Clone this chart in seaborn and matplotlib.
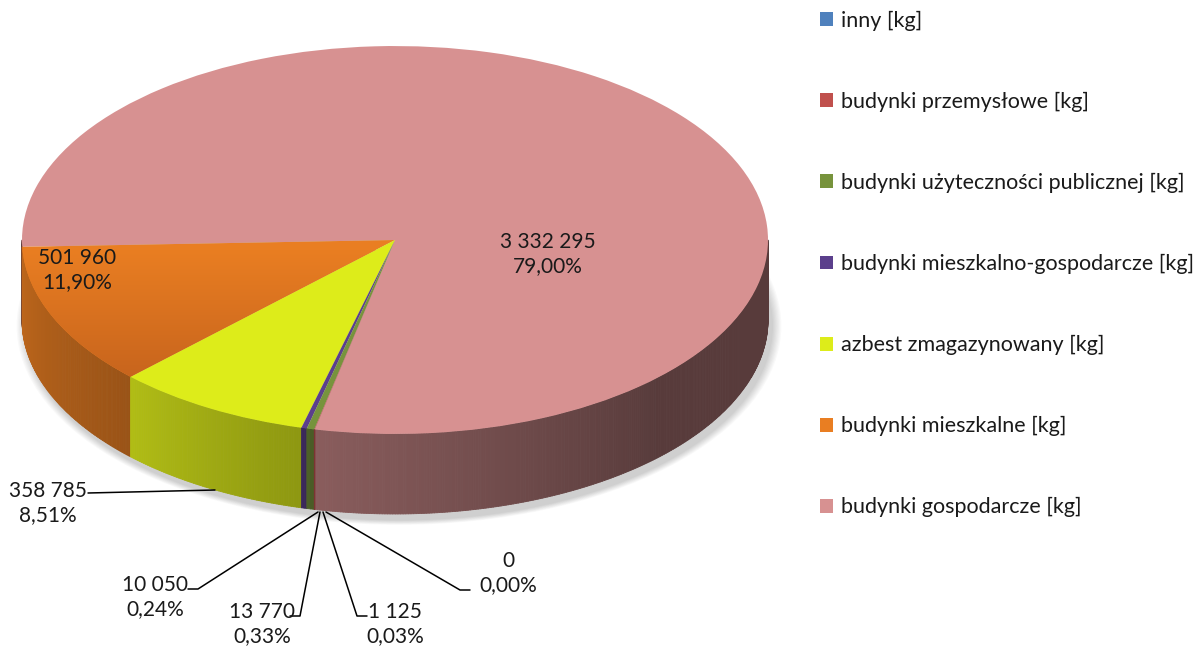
import matplotlib
matplotlib.use("Agg")
import numpy as np
import matplotlib.pyplot as plt
import seaborn as sns
from matplotlib.patches import Patch, Ellipse
from matplotlib.collections import PolyCollection
from matplotlib.colors import to_rgb, LinearSegmentedColormap

# dane (kolejność wycinków jak w arkuszu)
categories = ["budynki gospodarcze [kg]", "budynki mieszkalne [kg]", "azbest zmagazynowany [kg]",
              "budynki mieszkalno-gospodarcze [kg]", "budynki użyteczności publicznej [kg]",
              "budynki przemysłowe [kg]", "inny [kg]"]
values = [3332295, 501960, 358785, 10050, 13770, 1125, 0]
top_colors = ["#D79191", "#E97E22", "#DDEC1A", "#5B3F8C", "#77933C", "#C0504D", "#4F81BD"]
side_shade = [(0.64, 0.41), (0.82, 0.66), (0.80, 0.64), (0.65, 0.6), (0.65, 0.6), (0.7, 0.6), (0.7, 0.6)]

# położenie etykiet (piksele obrazka): środek tekstu, punkty linii odniesienia
label_pos = [(548, 254), (77, 270), (48, 503), (155, 597), (262, 624), (395, 624), (508, 573)]
leaders = [None, None,
           [(88, 493), (215, 490)],
           [(188, 589), (198, 589), (318, 512)],
           [(290, 616), (300, 616), (320, 512)],
           [(367, 616), (357, 616), (323, 512)],
           [(470, 590), (460, 590), (326, 512)]]

SQ = 0.52          # spłaszczenie elipsy
W, H = 1200, 649
cx, cy_px, R, depth_px = 395, 240, 373, 80
start = 257.6

def px(x, y):
    return x, (H - y) / SQ

sns.set_theme(style="white")
plt.rcParams["font.family"] = ["Lato", "DejaVu Sans"]

fig = plt.figure(figsize=(12, 6.49), dpi=100)
ax = fig.add_axes([0, 0, 1, 1])

cx_d, cy_d = px(cx, cy_px)
depth = depth_px / SQ
total = sum(values)
angles = np.concatenate([[start], start + 360 * np.cumsum(values) / total])

# miękki cień pod tortem
for g in range(8):
    ax.add_patch(Ellipse((cx_d + 4, cy_d - depth - 6 / SQ), 2 * (R + 1 + g * 1.2),
                         2 * (R + 1 + g * 1.2), facecolor="black", alpha=0.025,
                         edgecolor="none", zorder=0))

# boczna ściana (tylko przednia połowa)
polys, cols = [], []
for i, (a0, a1) in enumerate(zip(angles[:-1], angles[1:])):
    base = np.array(to_rgb(top_colors[i]))
    for k in (-360, 0, 360):
        lo, hi = max(a0 + k, 180), min(a1 + k, 360)
        if hi <= lo:
            continue
        n = max(2, int((hi - lo) / 0.4))
        th = np.linspace(lo, hi, n + 1)
        for j in range(n):
            t0, t1 = np.radians(th[j]), np.radians(th[j + 1])
            x0, y0 = cx_d + R * np.cos(t0), cy_d + R * np.sin(t0)
            x1, y1 = cx_d + R * np.cos(t1), cy_d + R * np.sin(t1)
            polys.append([(x0, y0), (x1, y1), (x1, y1 - depth), (x0, y0 - depth)])
            t = (th[j] - lo) / (hi - lo)
            if i == 0:
                t = min(1.0, t * 1.8)
            f = side_shade[i][0] + (side_shade[i][1] - side_shade[i][0]) * t
            cols.append(np.clip(base * f, 0, 1))
ax.add_collection(PolyCollection(polys, facecolors=cols, edgecolors=cols, linewidths=0.6, zorder=1))

wedges, _ = ax.pie(values, colors=top_colors, startangle=start, counterclock=True,
                   radius=R, center=(cx_d, cy_d), frame=True,
                   wedgeprops=dict(linewidth=0, zorder=2))

# gradient na wierzchu wycinka pomarańczowego
cmap = LinearSegmentedColormap.from_list("or", ["#C2601C", "#E97E22"])
grad = np.linspace(0, 1, 256).reshape(-1, 1)
y_lo, y_hi = px(0, 400)[1], px(0, 250)[1]
im = ax.imshow(grad, cmap=cmap, extent=(0, cx + 10, y_lo, y_hi), origin="lower",
               aspect="auto", zorder=2.5)
im.set_clip_path(wedges[1])

# etykiety danych
for i, v in enumerate(values):
    pct = f"{100 * v / total:.2f}".replace(".", ",") + "%"
    txt = f"{v:,}".replace(",", " ") + "\n" + pct
    x, y = px(*label_pos[i])
    ax.text(x, y, txt, ha="center", va="center", fontsize=15, color="#1a1a1a",
            linespacing=1.3, zorder=5)
    if leaders[i]:
        pts = [px(*p) for p in leaders[i]]
        ax.plot([p[0] for p in pts], [p[1] for p in pts], color="black", lw=1.1, zorder=4)

ax.set_xlim(0, W)
ax.set_ylim(0, H / SQ)
ax.set_aspect("auto")
ax.axis("off")

handles = [Patch(facecolor=top_colors[i], edgecolor="none") for i in range(len(values))][::-1]
fig.legend(handles, categories[::-1], loc="upper left", bbox_to_anchor=(809 / W, 1.0),
           frameon=False, fontsize=15.5, handlelength=0.62, handleheight=0.62,
           handletextpad=0.38, labelspacing=2.83, borderpad=0, labelcolor="#1a1a1a")

fig.savefig("out.png", dpi=100, facecolor="white")
